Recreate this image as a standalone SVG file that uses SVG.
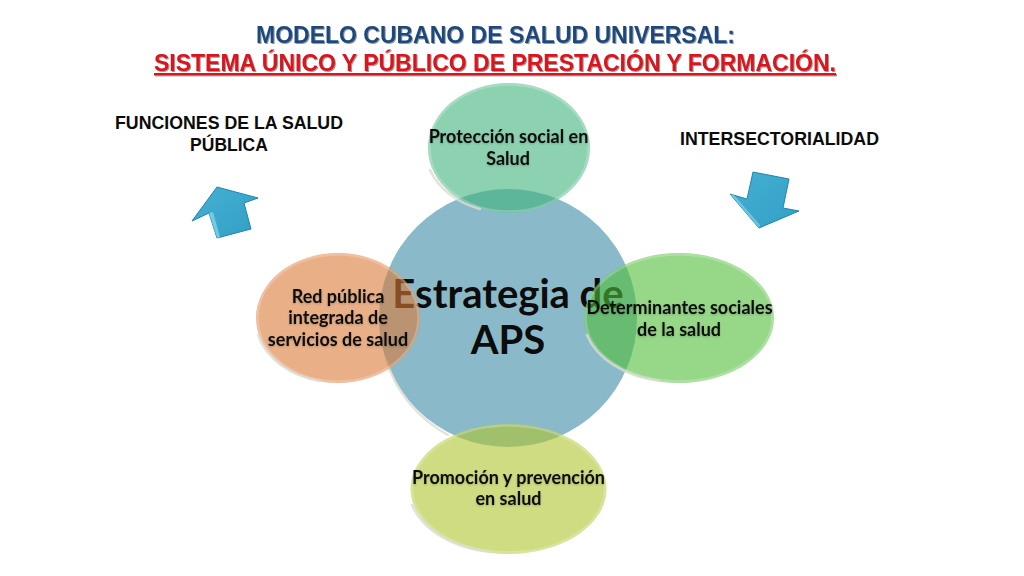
<svg xmlns="http://www.w3.org/2000/svg" width="1024" height="576" viewBox="0 0 1024 576">
<style>
.t{font-family:"Liberation Sans",Arial,sans-serif;font-weight:bold;text-anchor:middle}
.h{font-size:24px;filter:url(#ts)}
.s{font-size:17.5px;fill:#0b0b0b}
.c{font-family:Lato,"Open Sans",sans-serif;font-weight:bold;text-anchor:middle;fill:#111;font-size:18px;filter:url(#gl)}
.big{font-family:Lato,"Open Sans",sans-serif;font-weight:bold;text-anchor:middle;fill:#0c0c0c;font-size:40px}
.rim{fill:none;stroke:#fff;stroke-opacity:.22;stroke-width:2.500}
.edge{fill:none;stroke:#dcdcd4;stroke-opacity:.8;stroke-width:2.500;stroke-linecap:round}
.arrow{fill:url(#ag);stroke:#1f86a8;stroke-width:1;stroke-linejoin:round}
</style>
<defs>
<filter id="ts" x="-5%" y="-30%" width="110%" height="160%"><feDropShadow dx="1" dy="1" stdDeviation=".7" flood-color="#000" flood-opacity=".4"/></filter>
<filter id="gl" x="-10%" y="-30%" width="120%" height="160%"><feDropShadow dx="0" dy="1" stdDeviation="1" flood-color="#000" flood-opacity=".22"/></filter>
<linearGradient id="ag" x1="0" y1="0" x2="1" y2="1"><stop offset="0" stop-color="#45b0d4"/><stop offset="1" stop-color="#339fc4"/></linearGradient>
</defs>
<rect width="1024" height="576" fill="#fff"/>
<g id="title">
<text class="t h" x="495.500" y="43" fill="#1f497d" textLength="479" lengthAdjust="spacingAndGlyphs">MODELO CUBANO DE SALUD UNIVERSAL:</text>
<text class="t h" x="495" y="71" fill="#d9141c" text-decoration="underline" textLength="682" lengthAdjust="spacingAndGlyphs">SISTEMA ÚNICO Y PÚBLICO DE PRESTACIÓN Y FORMACIÓN.</text>
</g>
<g id="label-funciones">
<text class="t s" x="229" y="129" textLength="228" lengthAdjust="spacingAndGlyphs">FUNCIONES DE LA SALUD</text>
<text class="t s" x="229" y="151">PÚBLICA</text>
</g>
<g id="label-intersectorialidad"><text class="t s" x="779.500" y="145" textLength="199" lengthAdjust="spacingAndGlyphs">INTERSECTORIALIDAD</text></g>
<g id="arrow-up">
<polygon class="arrow" points="217,187 258,198 244,203 251,229 217,238 209,213 192,221"/>
<polygon points="209,213 217,238 220,237 213,212" fill="#8adaf0" opacity=".7"/>
</g>
<g id="arrow-down">
<polygon class="arrow" points="753,172 789,179 783,208 799,211 759,228 730,194 747,199"/>
<polygon points="730,194 759,228 760,225 734,195" fill="#8adaf0" opacity=".6"/>
</g>
<g id="node-aps">
<circle cx="508" cy="318" r="129" fill="#8abac9"/>
<path class="edge" d="M386,360 A131,131 0 0 0 448,435"/>
<text class="big" x="508" y="308">Estrategia de</text>
<text class="big" x="508" y="354">APS</text>
</g>
<g id="node-proteccion">
<ellipse cx="509" cy="148" rx="81" ry="65" fill="#41b47b" fill-opacity=".6"/>
<ellipse class="rim" cx="509" cy="148" rx="79.500" ry="63.500"/>
<path class="edge" d="M430,170 A80,64 0 0 0 480,209"/>
<text class="c" x="508.500" y="143">Protección social en</text>
<text class="c" x="508" y="165">Salud</text>
</g>
<g id="node-determinantes">
<ellipse cx="679" cy="318" rx="95" ry="65" fill="#50be39" fill-opacity=".6"/>
<ellipse class="rim" cx="679" cy="318" rx="93.500" ry="63.500"/>
<path class="edge" d="M587,335 A94,64 0 0 0 660,381"/>
<text class="c" x="679.500" y="314">Determinantes sociales</text>
<text class="c" x="679" y="336">de la salud</text>
</g>
<g id="node-promocion">
<ellipse cx="508.500" cy="489" rx="98" ry="65" fill="#b1c52f" fill-opacity=".6"/>
<ellipse class="rim" cx="508.500" cy="489" rx="96.500" ry="63.500"/>
<path class="edge" d="M412,505 A97,64 0 0 0 490,552"/>
<text class="c" x="508.500" y="484">Promoción y prevención</text>
<text class="c" x="508.500" y="505">en salud</text>
</g>
<g id="node-red">
<ellipse cx="338" cy="318" rx="82" ry="65" fill="#da7b39" fill-opacity=".6"/>
<ellipse class="rim" cx="338" cy="318" rx="80.500" ry="63.500"/>
<path class="edge" d="M258,335 A81,64 0 0 0 320,381"/>
<text class="c" x="338" y="303">Red pública</text>
<text class="c" x="338" y="324">integrada de</text>
<text class="c" x="338" y="346">servicios de salud</text>
</g>
</svg>
